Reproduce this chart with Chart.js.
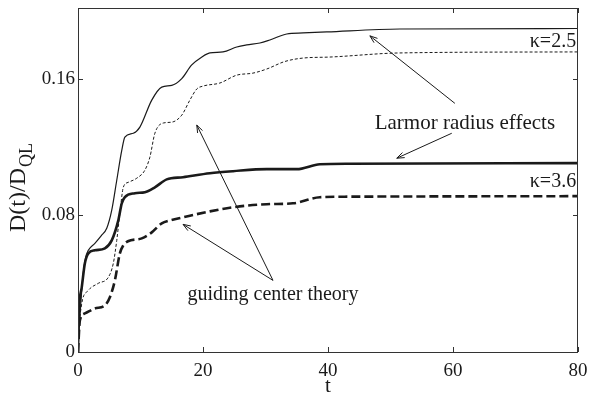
<!DOCTYPE html>
<html>
<head>
<meta charset="utf-8">
<script src="https://cdn.jsdelivr.net/npm/chart.js@4/dist/chart.umd.min.js"></script>
<style>
html,body{margin:0;padding:0;background:#fff;}
#wrap{width:589px;height:396px;position:relative;}
</style>
</head>
<body>
<div id="wrap"><canvas id="c" width="589" height="396"></canvas></div>
<script>
// ---- data ----
const xTicks = [0, 20, 40, 60, 80];
const yTicks = [0, 0.08, 0.16];

// kappa = 2.5, Larmor radius effects (thin solid)
const tA = [0, 0.3, 0.8, 1.2, 1.65, 2.7, 3.7, 4.6, 5.4, 6.2, 7.0, 7.5, 8.85, 9.9, 11.8, 13.4, 15.0, 16.6, 18.2, 19.8, 21.1, 23.2, 25.4, 27.0, 29.1, 30.7, 33.4, 36, 39.8, 51.5, 80];
const vA = [0, 0.02, 0.045, 0.055, 0.0595, 0.0636, 0.068, 0.0724, 0.083, 0.1005, 0.118, 0.1258, 0.128, 0.1316, 0.1474, 0.155, 0.156, 0.160, 0.168, 0.1726, 0.175, 0.1756, 0.1785, 0.1797, 0.1808, 0.1826, 0.1861, 0.1867, 0.1873, 0.189, 0.1893];

// kappa = 2.5, guiding center theory (thin dashed)
const tB = [0, 0.15, 0.6, 1.65, 3.25, 4.85, 5.65, 6.2, 6.7, 7.25, 8.05, 9.4, 10.7, 11.5, 12.3, 13.65, 15.0, 16.6, 17.9, 19.0, 20.0, 22.7, 25.4, 28.0, 30.2, 33.1, 36, 40.3, 51.5, 80];
const vB = [0, 0.0126, 0.0284, 0.036, 0.0402, 0.0437, 0.0519, 0.0653, 0.0812, 0.0964, 0.0993, 0.1017, 0.1064, 0.114, 0.128, 0.134, 0.1345, 0.1386, 0.1474, 0.1539, 0.1556, 0.1574, 0.162, 0.1632, 0.1656, 0.170, 0.172, 0.1726, 0.175, 0.1756];

// kappa = 3.6, Larmor radius effects (thick solid)
const tC = [0, 0.05, 0.6, 1.1, 1.65, 2.7, 4.3, 5.4, 6.45, 7.0, 7.5, 9.1, 10.7, 12.3, 14.2, 16.8, 21.1, 24.8, 30.2, 35, 38.7, 43.5, 80];
const vC = [0, 0.0144, 0.0378, 0.0519, 0.0577, 0.0595, 0.0607, 0.0653, 0.077, 0.087, 0.0906, 0.0929, 0.0935, 0.0964, 0.101, 0.1023, 0.1046, 0.1058, 0.107, 0.107, 0.1099, 0.1102, 0.1105];

// kappa = 3.6, guiding center theory (thick dashed)
const tD = [0, 0.3, 1.1, 2.7, 4.3, 5.1, 5.9, 6.7, 7.25, 8.0, 10.2, 11.8, 13.4, 14.7, 16.8, 21.1, 24.8, 30.2, 34.4, 38.7, 43.5, 80];
const vD = [0, 0.0185, 0.0226, 0.0255, 0.0273, 0.032, 0.0419, 0.0577, 0.0624, 0.0648, 0.0665, 0.070, 0.0753, 0.077, 0.0788, 0.0823, 0.0847, 0.0865, 0.087, 0.0906, 0.0909, 0.0912];

// annotations (data coordinates)
const noteText  = ['\u03ba=2.5', '\u03ba=3.6', 'Larmor radius effects', 'guiding center theory'];
const noteT     = [79.7, 79.7, 61.9, 31.2];
const noteV     = [0.1814, 0.0999, 0.134, 0.0337];
const noteAlign = ['right', 'right', 'center', 'center'];
const noteSize  = [20, 20, 21, 20];

const arrowFromT = [60.3, 59.8, 31.2, 31.2];
const arrowFromV = [0.1455, 0.128, 0.0419, 0.0419];
const arrowToT   = [46.7, 51.0, 19.0, 16.8];
const arrowToV   = [0.185, 0.1134, 0.1328, 0.0747];

const SERIF = '"Liberation Serif", "DejaVu Serif", serif';
const INK = '#1a1a1a';

function pts(t, v) { return t.map((x, i) => ({x: x, y: v[i]})); }

const framePlugin = {
  id: 'frame',
  afterDatasetsDraw(chart) {
    const {ctx, chartArea: a, scales: {x, y}} = chart;
    ctx.save();
    ctx.strokeStyle = '#333';
    ctx.lineWidth = 1;
    ctx.strokeRect(a.left + 0.5, a.top + 0.5, a.right - a.left - 1, a.bottom - a.top);
    const L = 5;
    ctx.beginPath();
    xTicks.forEach(v => {
      const px = Math.round(x.getPixelForValue(v)) + 0.5;
      ctx.moveTo(px, a.bottom); ctx.lineTo(px, a.bottom - L);
      ctx.moveTo(px, a.top); ctx.lineTo(px, a.top + L);
    });
    yTicks.forEach(v => {
      const py = Math.round(y.getPixelForValue(v)) + 0.5;
      ctx.moveTo(a.left, py); ctx.lineTo(a.left + L, py);
      ctx.moveTo(a.right, py); ctx.lineTo(a.right - L, py);
    });
    ctx.stroke();

    // arrows
    ctx.strokeStyle = INK;
    ctx.lineWidth = 1;
    for (let i = 0; i < arrowFromT.length; i++) {
      const x0 = x.getPixelForValue(arrowFromT[i]), y0 = y.getPixelForValue(arrowFromV[i]);
      const x1 = x.getPixelForValue(arrowToT[i]), y1 = y.getPixelForValue(arrowToV[i]);
      ctx.beginPath(); ctx.moveTo(x0, y0); ctx.lineTo(x1, y1); ctx.stroke();
      const ang = Math.atan2(y1 - y0, x1 - x0), h = 8, s = 0.35;
      ctx.beginPath();
      ctx.moveTo(x1 - h * Math.cos(ang - s), y1 - h * Math.sin(ang - s));
      ctx.lineTo(x1, y1);
      ctx.lineTo(x1 - h * Math.cos(ang + s), y1 - h * Math.sin(ang + s));
      ctx.stroke();
    }

    // text notes
    ctx.fillStyle = INK;
    ctx.textBaseline = 'middle';
    for (let i = 0; i < noteText.length; i++) {
      ctx.font = noteSize[i] + 'px ' + SERIF;
      ctx.textAlign = noteAlign[i];
      ctx.fillText(noteText[i], x.getPixelForValue(noteT[i]), y.getPixelForValue(noteV[i]));
    }

    // axis titles
    ctx.textAlign = 'center';
    ctx.textBaseline = 'middle';
    ctx.font = '21px ' + SERIF;
    ctx.fillText('t', (a.left + a.right) / 2, 386);

    ctx.translate(19, 188);
    ctx.rotate(-Math.PI / 2);
    const main = 'D(t)/D';
    ctx.font = '24px ' + SERIF;
    const w1 = ctx.measureText(main).width;
    ctx.font = '18px ' + SERIF;
    const w2 = ctx.measureText('QL').width;
    const start = -(w1 + w2) / 2;
    ctx.textAlign = 'left';
    ctx.font = '24px ' + SERIF;
    ctx.fillText(main, start, 0);
    ctx.font = '18px ' + SERIF;
    ctx.fillText('QL', start + w1 + 1, 8);
    ctx.restore();
  }
};

const common = {pointRadius: 0, fill: false, cubicInterpolationMode: 'monotone', borderColor: INK};

new Chart(document.getElementById('c'), {
  type: 'line',
  data: {
    datasets: [
      Object.assign({label: 'kappa=2.5 Larmor', data: pts(tA, vA), borderWidth: 1.2}, common),
      Object.assign({label: 'kappa=2.5 GC', data: pts(tB, vB), borderWidth: 1, borderDash: [3, 2]}, common),
      Object.assign({label: 'kappa=3.6 Larmor', data: pts(tC, vC), borderWidth: 2.6}, common),
      Object.assign({label: 'kappa=3.6 GC', data: pts(tD, vD), borderWidth: 2.6, borderDash: [9, 4]}, common)
    ]
  },
  options: {
    responsive: false,
    animation: false,
    events: [],
    layout: {padding: {top: 8, right: 11, left: 0, bottom: 0}},
    plugins: {legend: {display: false}, tooltip: {enabled: false}},
    scales: {
      x: {
        type: 'linear', min: 0, max: 80,
        afterBuildTicks: s => { s.ticks = xTicks.map(v => ({value: v})); },
        afterFit: s => { s.height = 44; s.paddingLeft = 0; s.paddingRight = 0; },
        grid: {display: false, drawTicks: false},
        border: {display: false},
        ticks: {padding: 8, color: INK, font: {family: SERIF, size: 19}, maxRotation: 0, autoSkip: false,
                callback: v => String(v)}
      },
      y: {
        type: 'linear', min: 0, max: 0.2013,
        afterBuildTicks: s => { s.ticks = yTicks.map(v => ({value: v})); },
        afterFit: s => { s.width = 78; s.paddingTop = 0; s.paddingBottom = 0; },
        grid: {display: false, drawTicks: false},
        border: {display: false},
        ticks: {padding: 3, color: INK, font: {family: SERIF, size: 19}, autoSkip: false,
                callback: v => v === 0 ? '0' : v.toFixed(2)}
      }
    }
  },
  plugins: [framePlugin]
});
</script>
</body>
</html>
